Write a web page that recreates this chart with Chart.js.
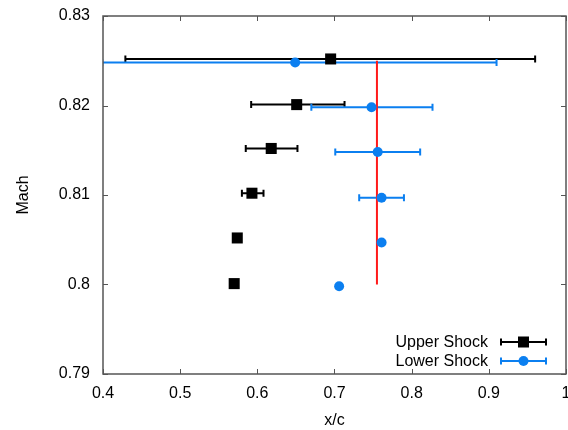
<!DOCTYPE html>
<html>
<head>
<meta charset="utf-8">
<script src="https://cdn.jsdelivr.net/npm/chart.js@4"></script>
<style>
  html, body { margin: 0; padding: 0; background: #fff; }
  #wrap { width: 568px; height: 430px; }
</style>
</head>
<body>
<div id="wrap"><canvas id="shockChart"></canvas></div>
<script>
// upper shock position vs Mach, with x/c spread
const upperMach = [0.8252, 0.8201, 0.8152, 0.8102, 0.8052, 0.8001];
const upperX    = [0.695, 0.651, 0.618, 0.593, 0.574, 0.570];
const upperXMin = [0.429, 0.592, 0.585, 0.580, null, null];
const upperXMax = [0.960, 0.713, 0.652, 0.608, null, null];

// lower shock
const lowerMach = [0.8248, 0.8198, 0.8148, 0.8097, 0.8047, 0.7998];
const lowerX    = [0.649, 0.748, 0.756, 0.761, 0.761, 0.706];
const lowerXMin = [0.399, 0.670, 0.701, 0.732, null, null];
const lowerXMax = [0.910, 0.827, 0.811, 0.790, null, null];

// red reference line
const refX = [0.755, 0.755];
const refMach = [0.825, 0.800];

const xTicks = [0.4, 0.5, 0.6, 0.7, 0.8, 0.9, 1];
const yTicks = [0.79, 0.8, 0.81, 0.82, 0.83];

const BLUE = '#0b7ff0';
const FONT = "'Liberation Sans', Arial, sans-serif";

const toPoints = (xs, ys) => xs.map((x, i) => ({ x: x, y: ys[i] }));

// horizontal error bars + frame with inward ticks + legend
const errorBars = {
    id: 'errorBars',
    beforeDatasetsDraw(chart) {
        const { ctx, chartArea, scales } = chart;
        const xs = scales.x, ys = scales.y;
        const sets = [
            { lo: upperXMin, hi: upperXMax, m: upperMach, color: '#000' },
            { lo: lowerXMin, hi: lowerXMax, m: lowerMach, color: BLUE }
        ];
        ctx.save();
        ctx.beginPath();
        ctx.rect(chartArea.left, chartArea.top, chartArea.right - chartArea.left, chartArea.bottom - chartArea.top);
        ctx.clip();
        for (let s of sets) {
            ctx.strokeStyle = s.color;
            ctx.lineWidth = 2;
            for (let i = 0; i < s.m.length; i++) {
                if (s.lo[i] === null) continue;
                const y = ys.getPixelForValue(s.m[i]);
                const x1 = xs.getPixelForValue(s.lo[i]);
                const x2 = xs.getPixelForValue(s.hi[i]);
                ctx.beginPath();
                ctx.moveTo(x1, y); ctx.lineTo(x2, y);
                ctx.moveTo(x1, y - 3.5); ctx.lineTo(x1, y + 3.5);
                ctx.moveTo(x2, y - 3.5); ctx.lineTo(x2, y + 3.5);
                ctx.stroke();
            }
        }
        ctx.restore();
    },
    afterDraw(chart) {
        const { ctx, chartArea, scales } = chart;
        const { left, right, top, bottom } = chartArea;
        ctx.save();
        ctx.strokeStyle = '#555';
        ctx.lineWidth = 1.5;
        ctx.strokeRect(left, top, right - left, bottom - top);
        ctx.lineWidth = 1;
        ctx.beginPath();
        for (let v of xTicks) {
            const x = Math.round(scales.x.getPixelForValue(v)) + 0.5;
            ctx.moveTo(x, bottom); ctx.lineTo(x, bottom - 5);
            ctx.moveTo(x, top); ctx.lineTo(x, top + 5);
        }
        for (let v of yTicks) {
            const y = Math.round(scales.y.getPixelForValue(v)) + 0.5;
            ctx.moveTo(left, y); ctx.lineTo(left + 5, y);
            ctx.moveTo(right, y); ctx.lineTo(right - 5, y);
        }
        ctx.stroke();

        // legend, bottom right
        ctx.font = '16px ' + FONT;
        ctx.textAlign = 'right';
        ctx.textBaseline = 'middle';
        const entries = [
            { label: 'Upper Shock', color: '#000', square: true, y: bottom - 32 },
            { label: 'Lower Shock', color: BLUE, square: false, y: bottom - 13 }
        ];
        for (let e of entries) {
            ctx.fillStyle = '#000';
            ctx.fillText(e.label, right - 78, e.y + 1);
            const x1 = right - 65, x2 = right - 20, xc = (x1 + x2) / 2;
            ctx.strokeStyle = e.color;
            ctx.lineWidth = 2;
            ctx.beginPath();
            ctx.moveTo(x1, e.y); ctx.lineTo(x2, e.y);
            ctx.moveTo(x1, e.y - 3.5); ctx.lineTo(x1, e.y + 3.5);
            ctx.moveTo(x2, e.y - 3.5); ctx.lineTo(x2, e.y + 3.5);
            ctx.stroke();
            ctx.fillStyle = e.color;
            if (e.square) {
                ctx.fillRect(xc - 5.5, e.y - 5.5, 11, 11);
            } else {
                ctx.beginPath();
                ctx.arc(xc, e.y, 5, 0, Math.PI * 2);
                ctx.fill();
            }
        }
        ctx.restore();
    }
};

const ctx = document.getElementById('shockChart').getContext('2d');
new Chart(ctx, {
    type: 'scatter',
    data: {
        datasets: [
            {
                label: 'Reference',
                data: toPoints(refX, refMach),
                showLine: true,
                borderColor: '#ff1a1a',
                borderWidth: 2,
                pointRadius: 0,
                order: 3
            },
            {
                label: 'Upper Shock',
                data: toPoints(upperX, upperMach),
                pointStyle: 'rect',
                pointRadius: 7.8,
                backgroundColor: '#000',
                borderColor: '#000',
                borderWidth: 0,
                order: 2
            },
            {
                label: 'Lower Shock',
                data: toPoints(lowerX, lowerMach),
                pointStyle: 'circle',
                pointRadius: 5,
                backgroundColor: BLUE,
                borderColor: BLUE,
                borderWidth: 0,
                order: 1
            }
        ]
    },
    options: {
        responsive: true,
        maintainAspectRatio: false,
        animation: false,
        layout: { autoPadding: false, padding: { left: 0, right: 2, top: 16, bottom: 0 } },
        plugins: {
            legend: { display: false },
            tooltip: { enabled: false }
        },
        scales: {
            x: {
                type: 'linear',
                min: 0.4,
                max: 1,
                afterBuildTicks: (axis) => { axis.ticks = xTicks.map(v => ({ value: v })); },
                afterFit: (axis) => {
                    axis.height = 56;
                    axis.paddingLeft = 0;
                    axis.paddingRight = 0;
                },
                grid: { display: false, drawTicks: false },
                border: { display: false },
                ticks: {
                    color: '#000',
                    padding: 10,
                    font: { family: FONT, size: 16 },
                    callback: (v) => String(v)
                },
                title: {
                    display: true,
                    text: 'x/c',
                    color: '#000',
                    padding: { top: 0, bottom: 0 },
                    font: { family: FONT, size: 16 }
                }
            },
            y: {
                type: 'linear',
                min: 0.79,
                max: 0.83,
                afterBuildTicks: (axis) => { axis.ticks = yTicks.map(v => ({ value: v })); },
                afterFit: (axis) => {
                    axis.width = 103;
                    axis.paddingTop = 0;
                    axis.paddingBottom = 0;
                },
                grid: { display: false, drawTicks: false },
                border: { display: false },
                ticks: {
                    color: '#000',
                    padding: 13,
                    font: { family: FONT, size: 16 },
                    callback: (v) => String(v)
                },
                title: {
                    display: true,
                    text: 'Mach',
                    color: '#000',
                    padding: { top: 14, bottom: 0 },
                    font: { family: FONT, size: 16 }
                }
            }
        }
    },
    plugins: [errorBars]
});
</script>
</body>
</html>
